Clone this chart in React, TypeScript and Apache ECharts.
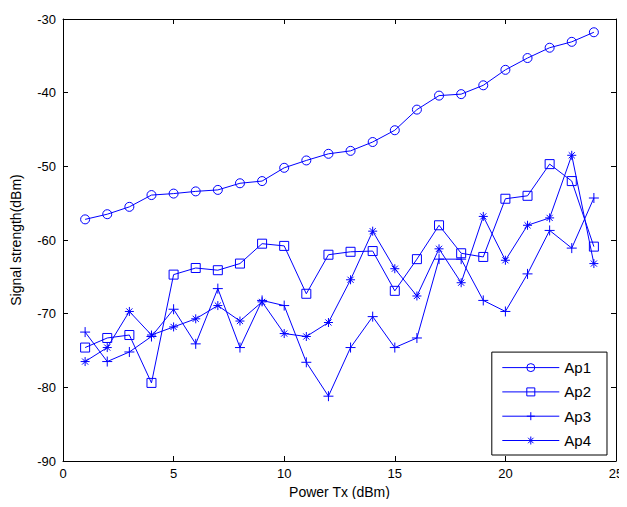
import React, { useEffect, useRef } from "react";
import * as echarts from "echarts";

const xValues = [1, 2, 3, 4, 5, 6, 7, 8, 9, 10, 11, 12, 13, 14, 15, 16, 17, 18, 19, 20, 21, 22, 23, 24];
const ap1 = [-57.2, -56.5, -55.5, -53.9, -53.7, -53.4, -53.2, -52.3, -52.0, -50.2, -49.2, -48.3, -47.9, -46.7, -45.1, -42.3, -40.4, -40.2, -39.0, -36.9, -35.3, -33.9, -33.1, -31.8];
const ap2 = [-74.6, -73.3, -72.9, -79.4, -64.7, -63.8, -64.1, -63.2, -60.5, -60.8, -67.3, -62.0, -61.6, -61.5, -66.9, -62.6, -58.0, -61.8, -62.3, -54.4, -54.0, -49.7, -52.0, -60.9];
const ap3 = [-72.5, -76.5, -75.2, -73.1, -69.4, -74.1, -66.6, -74.6, -68.2, -68.9, -76.6, -81.2, -74.6, -70.4, -74.6, -73.3, -62.6, -62.6, -68.2, -69.7, -64.6, -58.7, -61.1, -54.3];
const ap4 = [-76.5, -74.6, -69.7, -72.9, -71.8, -70.7, -68.9, -71.0, -68.4, -72.7, -73.1, -71.2, -65.4, -58.8, -63.9, -67.6, -61.2, -65.8, -56.8, -62.75, -58.0, -57.0, -48.5, -63.2];
const seriesNames = ["Ap1", "Ap2", "Ap3", "Ap4"];
const xTicks = { min: 0, max: 25, interval: 5 };
const yTicks = { min: -90, max: -30, interval: 10 };

const BLUE = "#0000ff";
const FONT = "Liberation Sans, Arial, sans-serif";

const circlePath = "path://M10,5A5,5,0,1,1,0,5A5,5,0,1,1,10,5Z";
const squarePath = "path://M0,0L10,0L10,10L0,10Z";
const plusPath = "path://M5,0L5,10M0,5L10,5";
const starPath = "path://M5,0L5,10M0,5L10,5M1.6,1.6L8.4,8.4M1.6,8.4L8.4,1.6";

export default function App() {
  const ref = useRef<HTMLDivElement>(null);
  useEffect(() => {
    if (!ref.current) return;
    const chart = echarts.init(ref.current, null, { renderer: "svg" });
    const mk = (vals: number[]) => xValues.map((x, i) => [x, vals[i]]);
    const markers = [
      { symbol: circlePath, size: 9 },
      { symbol: squarePath, size: 9 },
      { symbol: plusPath, size: 10 },
      { symbol: starPath, size: 9 },
    ];
    const data = [ap1, ap2, ap3, ap4];
    const axisCommon = {
      axisLine: { show: true, onZero: false, lineStyle: { color: "#000", width: 1 } },
      axisTick: { show: true, inside: true, length: 5, lineStyle: { color: "#000", width: 1 } },
      splitLine: { show: false },
    };
    chart.setOption({
      animation: false,
      backgroundColor: "#fff",
      grid: { left: 63, right: 11, top: 19, bottom: 46 },
      xAxis: [
        {
          type: "value",
          ...xTicks,
          ...axisCommon,
          name: "Power Tx (dBm)",
          nameLocation: "middle",
          nameGap: 24,
          nameTextStyle: { fontFamily: FONT, fontSize: 14, color: "#000" },
          axisLabel: { fontFamily: FONT, fontSize: 13, color: "#000", margin: 6 },
        },
        {
          type: "value",
          position: "top",
          ...xTicks,
          ...axisCommon,
          axisLabel: { show: false },
        },
      ],
      yAxis: [
        {
          type: "value",
          ...yTicks,
          ...axisCommon,
          name: "Signal strength(dBm)",
          nameLocation: "middle",
          nameGap: 40,
          nameTextStyle: { fontFamily: FONT, fontSize: 14, color: "#000" },
          axisLabel: { fontFamily: FONT, fontSize: 13, color: "#000", margin: 7 },
        },
        {
          type: "value",
          position: "right",
          ...yTicks,
          ...axisCommon,
          axisLabel: { show: false },
        },
      ],
      legend: {
        orient: "vertical",
        right: 20,
        bottom: 52,
        padding: [8, 16, 7, 10],
        itemWidth: 57,
        itemHeight: 10,
        itemGap: 9.3,
        backgroundColor: "#fff",
        borderColor: "#000",
        borderWidth: 1,
        borderRadius: 0,
        selectedMode: false,
        itemStyle: { color: "none", borderColor: BLUE, borderWidth: 1 },
        lineStyle: { color: BLUE, width: 1 },
        textStyle: { fontFamily: FONT, fontSize: 15, color: "#000" },
        data: seriesNames,
      },
      series: data.map((vals, i) => ({
        name: seriesNames[i],
        type: "line",
        data: mk(vals),
        symbol: markers[i].symbol,
        symbolSize: markers[i].size,
        showAllSymbol: true,
        color: BLUE,
        lineStyle: { color: BLUE, width: 1 },
        itemStyle: { color: "none", borderColor: BLUE, borderWidth: 1 },
        emphasis: { disabled: true },
      })),
    });
    return () => chart.dispose();
  }, []);
  return <div ref={ref} style={{ width: 627, height: 507, margin: -8 }} />;
}
